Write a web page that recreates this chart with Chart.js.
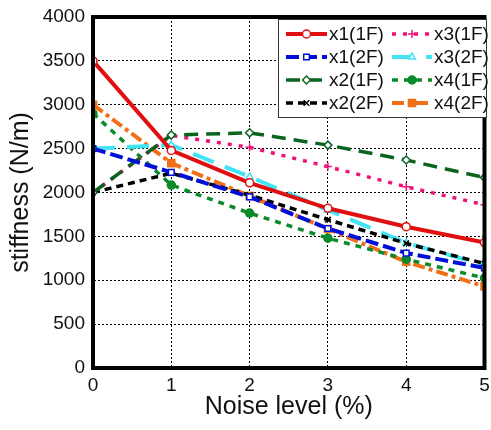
<!DOCTYPE html>
<html>
<head>
<meta charset="utf-8">
<script src="https://cdn.jsdelivr.net/npm/chart.js@4/dist/chart.umd.min.js"></script>
<style>
  html, body { margin: 0; padding: 0; background: #fff; }
  #wrap { width: 491px; height: 430px; }
</style>
</head>
<body>
<div id="wrap"><canvas id="stiff"></canvas></div>
<script>
// noise level (%) on the x axis
const noiseLevels = [0, 1, 2, 3, 4, 5];
const yTicks = [0, 500, 1000, 1500, 2000, 2500, 3000, 3500, 4000];

// identified stiffness (N/m) for each parameter / floor
const x1_1F = [3500, 2480, 2110, 1820, 1610, 1430];
const x1_2F = [2500, 2230, 1950, 1590, 1310, 1140];
const x2_1F = [2000, 2655, 2680, 2540, 2370, 2170];
const x2_2F = [2000, 2220, 1970, 1690, 1420, 1190];
const x3_1F = [2000, 2650, 2515, 2295, 2065, 1860];
const x3_2F = [2500, 2540, 2180, 1800, 1425, 1175];
const x4_1F = [2900, 2085, 1765, 1480, 1240, 1025];
const x4_2F = [3000, 2335, 1960, 1585, 1210, 930];

const FONT = "'Liberation Sans', Arial, sans-serif";

function series(label, data, color, dash, width, style, fill, radius) {
    return {
        label: label,
        data: data,
        borderColor: color,
        borderDash: dash,
        borderWidth: width,
        pointStyle: style,
        pointRadius: radius || 4,
        pointBorderWidth: 1.5,
        pointBorderColor: color,
        pointBackgroundColor: fill ? color : '#fff',
        tension: 0,
        fill: false
    };
}

const datasets = [
    series('x1(1F)', x1_1F, '#e01010', [], 4, 'circle', false),
    series('x1(2F)', x1_2F, '#0010d8', [13, 5], 4, 'rect', false),
    series('x2(1F)', x2_1F, '#0a6420', [14, 8], 3.5, 'rectRot', false),
    series('x2(2F)', x2_2F, '#000000', [7, 5], 3.5, 'crossRot', false),
    series('x3(1F)', x3_1F, '#f0107a', [4, 7], 3.5, 'cross', false),
    series('x3(2F)', x3_2F, '#40e4f4', [22, 12], 4, 'triangle', false),
    series('x4(1F)', x4_1F, '#0a8a2a', [6, 6], 3.5, 'circle', true),
    series('x4(2F)', x4_2F, '#f07018', [12, 4, 4, 4], 4, 'rect', true, 5)
];

// two-column legend box in the upper right corner of the plot
const boxLegend = {
    id: 'boxLegend',
    afterDraw(chart) {
        const ctx = chart.ctx;
        const left = 278, top = 19, w = 208, h = 98;
        ctx.save();
        ctx.fillStyle = '#fff';
        ctx.fillRect(left, top, w, h);
        ctx.strokeStyle = '#333';
        ctx.lineWidth = 1;
        ctx.strokeRect(left + 0.5, top + 0.5, w, h);
        const rows = [34, 57, 80, 103];
        const cols = [{ x0: 286, x1: 327, tx: 329 }, { x0: 392, x1: 432, tx: 434 }];
        chart.data.datasets.forEach((ds, i) => {
            const col = cols[Math.floor(i / 4)];
            const y = rows[i % 4];
            ctx.strokeStyle = ds.borderColor;
            ctx.lineWidth = ds.borderWidth;
            ctx.setLineDash(ds.borderDash);
            ctx.beginPath();
            ctx.moveTo(col.x0, y);
            ctx.lineTo(col.x1, y);
            ctx.stroke();
            ctx.setLineDash([]);
            ctx.fillStyle = ds.pointBackgroundColor;
            ctx.strokeStyle = ds.pointBorderColor;
            ctx.lineWidth = ds.pointBorderWidth;
            Chart.helpers.drawPoint(ctx, {
                pointStyle: ds.pointStyle, radius: ds.pointRadius,
                rotation: 0, borderWidth: ds.pointBorderWidth
            }, (col.x0 + col.x1) / 2, y);
            ctx.fillStyle = '#111';
            ctx.font = '19px ' + FONT;
            ctx.textBaseline = 'middle';
            ctx.textAlign = 'left';
            ctx.fillText(ds.label, col.tx, y + 1);
        });
        ctx.restore();
    }
};

// thick frame around the plot area
const frame = {
    id: 'frame',
    afterDatasetsDraw(chart) {
        const a = chart.chartArea, ctx = chart.ctx;
        ctx.save();
        ctx.strokeStyle = '#000';
        ctx.lineWidth = 4;
        ctx.strokeRect(a.left, a.top, a.right - a.left, a.bottom - a.top);
        ctx.restore();
    }
};

new Chart(document.getElementById('stiff'), {
    type: 'line',
    data: { datasets: datasets.map(ds => ({ ...ds, data: ds.data.map((v, i) => ({ x: noiseLevels[i], y: v })) })) },
    options: {
        responsive: true,
        maintainAspectRatio: false,
        animation: false,
        layout: { padding: { left: 0, right: 4, top: 17, bottom: 0 } },
        plugins: { legend: { display: false }, tooltip: { enabled: false } },
        scales: {
            x: {
                type: 'linear',
                min: 0, max: 5,
                afterBuildTicks: s => { s.ticks = noiseLevels.map(v => ({ value: v })); },
                afterFit: s => { s.height = 62; s.paddingLeft = 0; s.paddingRight = 0; },
                grid: { color: '#000', lineWidth: 1, drawTicks: false },
                border: { display: true, width: 1, color: '#000', dash: [2, 2] },
                ticks: { color: '#111', font: { family: FONT, size: 19 }, padding: 6, maxRotation: 0,
                         callback: v => String(v) },
                title: { display: true, text: 'Noise level (%)', color: '#111',
                         font: { family: FONT, size: 25 }, padding: { top: 0, bottom: 8 } }
            },
            y: {
                min: 0, max: 4000,
                afterBuildTicks: s => { s.ticks = yTicks.map(v => ({ value: v })); },
                afterFit: s => { s.width = 93; s.paddingTop = 0; s.paddingBottom = 0; },
                grid: { color: '#000', lineWidth: 1, drawTicks: false },
                border: { display: true, width: 1, color: '#000', dash: [2, 2] },
                ticks: { color: '#111', font: { family: FONT, size: 19 }, padding: 8,
                         callback: v => String(v) },
                title: { display: true, text: 'stiffness (N/m)', color: '#111',
                         font: { family: FONT, size: 25 }, padding: { top: 6, bottom: 0 } }
            }
        }
    },
    plugins: [frame, boxLegend]
});
</script>
</body>
</html>
